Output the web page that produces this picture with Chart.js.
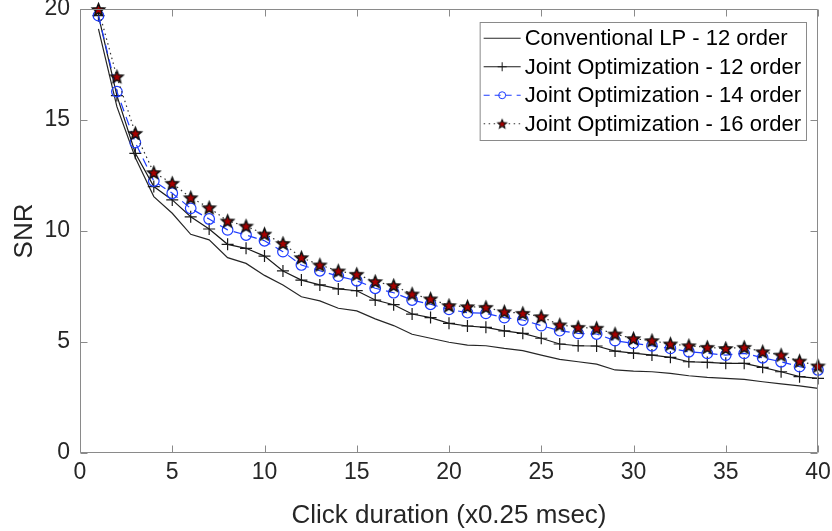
<!DOCTYPE html>
<html>
<head>
<meta charset="utf-8">
<title>SNR vs click duration</title>
<script src="https://cdn.jsdelivr.net/npm/chart.js@4.4.1/dist/chart.umd.min.js"></script>
<style>
  html, body { margin: 0; padding: 0; background: #fff; }
  canvas { display: block; }
</style>
</head>
<body>
<canvas id="snrChart" width="832" height="531"></canvas>
<script>
// x positions (click duration, in units of 0.25 msec)
const clickDuration = [1, 2, 3, 4, 5, 6, 7, 8, 9, 10, 11, 12, 13, 14, 15, 16, 17, 18, 19, 20,
  21, 22, 23, 24, 25, 26, 27, 28, 29, 30, 31, 32, 33, 34, 35, 36, 37, 38, 39, 40];

// SNR values
const conventionalLP12 = [19.1, 15.6, 13.3, 11.55, 10.8, 9.85, 9.6, 8.8, 8.54, 8.0,
  7.57, 7.04, 6.85, 6.52, 6.4, 6.04, 5.74, 5.35, 5.17, 4.99,
  4.86, 4.83, 4.71, 4.61, 4.41, 4.22, 4.11, 4.0, 3.74, 3.69,
  3.66, 3.59, 3.48, 3.41, 3.36, 3.32, 3.21, 3.11, 3.02, 2.91];
const jointOpt12 = [19.7, 16.1, 13.5, 12.0, 11.4, 10.64, 10.09, 9.4, 9.22, 8.87,
  8.2, 7.79, 7.57, 7.39, 7.31, 6.89, 6.68, 6.26, 6.1, 5.84,
  5.72, 5.66, 5.5, 5.39, 5.17, 4.91, 4.83, 4.82, 4.59, 4.5,
  4.41, 4.31, 4.11, 4.08, 4.04, 4.04, 3.86, 3.66, 3.44, 3.36];
const jointOpt14 = [19.7, 16.28, 13.98, 12.25, 11.7, 11.02, 10.54, 10.05, 9.82, 9.56,
  9.07, 8.47, 8.21, 7.97, 7.76, 7.42, 7.22, 6.89, 6.7, 6.47,
  6.32, 6.29, 6.1, 5.99, 5.74, 5.51, 5.39, 5.36, 5.06, 4.94,
  4.83, 4.71, 4.56, 4.49, 4.41, 4.49, 4.29, 4.11, 3.89, 3.74];
const jointOpt16 = [19.98, 16.95, 14.4, 12.63, 12.15, 11.5, 11.05, 10.45, 10.22, 9.86,
  9.44, 8.8, 8.47, 8.2, 8.05, 7.72, 7.54, 7.16, 6.94, 6.64,
  6.59, 6.56, 6.36, 6.29, 6.14, 5.77, 5.66, 5.62, 5.36, 5.15,
  5.06, 4.91, 4.83, 4.76, 4.71, 4.76, 4.56, 4.41, 4.14, 3.92];

const seriesLabels = [
  "Conventional LP - 12 order",
  "Joint Optimization - 12 order",
  "Joint Optimization - 14 order",
  "Joint Optimization - 16 order"
];
const xTickValues = [0, 5, 10, 15, 20, 25, 30, 35, 40];
const yTickValues = [0, 5, 10, 15, 20];

const FONT = "'Liberation Sans', Arial, Helvetica, sans-serif";
const textColor = "#262626";
const axisColor = "#8a8a8a";

// filled five-point star marker (MATLAB 'p' with red face)
function makeStar(r, lw) {
  const size = Math.ceil(r * 2 + 4);
  const c = document.createElement("canvas");
  c.width = size; c.height = size;
  const g = c.getContext("2d");
  const cx = size / 2, cy = size / 2 + 0.5;
  g.beginPath();
  for (let i = 0; i < 10; i++) {
    const rad = i % 2 === 0 ? r : r * 0.45;
    const a = -Math.PI / 2 + i * Math.PI / 5;
    const px = cx + rad * Math.cos(a), py = cy + rad * Math.sin(a);
    if (i === 0) g.moveTo(px, py); else g.lineTo(px, py);
  }
  g.closePath();
  g.fillStyle = "#a80000";
  g.fill();
  g.lineWidth = lw;
  g.strokeStyle = "#111";
  g.stroke();
  return c;
}
const starBig = makeStar(6.4, 1.5);
const starSmall = makeStar(4.6, 1.1);

function toPoints(arr) {
  return clickDuration.map((x, i) => ({ x: x, y: arr[i] }));
}

// draws the box round the axes and MATLAB style inward ticks
const axesFrame = {
  id: "axesFrame",
  afterDatasetsDraw(chart) {
    const { ctx, chartArea: a, scales } = chart;
    const L = Math.round(a.left) + 0.5, R = Math.round(a.right) - 0.5;
    const T = Math.round(a.top) + 0.5, B = Math.round(a.bottom) - 0.5;
    const tl = 7;
    ctx.save();
    ctx.strokeStyle = axisColor;
    ctx.lineWidth = 1;
    ctx.beginPath();
    ctx.rect(L, T, R - L, B - T);
    scales.x.ticks.forEach(t => {
      const px = Math.round(scales.x.getPixelForValue(t.value)) + 0.5;
      ctx.moveTo(px, B); ctx.lineTo(px, B - tl);
      ctx.moveTo(px, T); ctx.lineTo(px, T + tl);
    });
    scales.y.ticks.forEach(t => {
      const py = Math.round(scales.y.getPixelForValue(t.value)) + 0.5;
      ctx.moveTo(L, py); ctx.lineTo(L + tl, py);
      ctx.moveTo(R, py); ctx.lineTo(R - tl, py);
    });
    ctx.stroke();
    ctx.restore();
  }
};

// legend box in the upper right corner, line sample + marker + text
const boxLegend = {
  id: "boxLegend",
  afterDraw(chart) {
    const { ctx, chartArea: a } = chart;
    ctx.save();
    ctx.font = "22px " + FONT;
    const textW = Math.max(...seriesLabels.map(s => ctx.measureText(s).width));
    const rowH = 28.5;
    const w = textW + 50;
    const h = rowH * seriesLabels.length + 4;
    const right = Math.round(a.right) - 12;
    const left = right - w;
    const top = Math.round(a.top) + 13;
    ctx.fillStyle = "#fff";
    ctx.fillRect(left, top, w, h);
    ctx.strokeStyle = axisColor;
    ctx.lineWidth = 1;
    ctx.strokeRect(left + 0.5, top + 0.5, w, h);

    chart.data.datasets.forEach((ds, i) => {
      const cy = top + 2 + rowH * (i + 0.5);
      const x0 = left + 4, x1 = left + 41;
      ctx.save();
      ctx.strokeStyle = ds.borderColor;
      ctx.lineWidth = ds.borderWidth;
      ctx.setLineDash(ds.legendDash || ds.borderDash || []);
      ctx.beginPath();
      ctx.moveTo(x0, cy); ctx.lineTo(x1, cy);
      ctx.stroke();
      ctx.restore();
      if (ds.pointRadius > 0) {
        ctx.save();
        ctx.strokeStyle = ds.pointBorderColor;
        ctx.fillStyle = ds.pointBackgroundColor;
        ctx.lineWidth = 1;
        Chart.helpers.drawPoint(ctx, {
          pointStyle: ds.pointStyle === starBig ? starSmall : ds.pointStyle,
          rotation: 0,
          radius: ds.legendRadius,
          borderWidth: 1
        }, (x0 + x1) / 2, cy);
        ctx.restore();
      }
      ctx.fillStyle = "#000";
      ctx.textBaseline = "middle";
      ctx.textAlign = "left";
      ctx.fillText(seriesLabels[i], left + 45, cy + 1);
    });
    ctx.restore();
  }
};

const ctx = document.getElementById("snrChart").getContext("2d");
new Chart(ctx, {
  type: "line",
  data: {
    datasets: [
      {
        label: seriesLabels[0],
        data: toPoints(conventionalLP12),
        borderColor: "#262626",
        borderWidth: 1.2,
        pointRadius: 0,
        order: 4,
        clip: false
      },
      {
        label: seriesLabels[1],
        data: toPoints(jointOpt12),
        borderColor: "#1a1a1a",
        borderWidth: 1.2,
        pointStyle: "cross",
        pointRadius: 6,
        legendRadius: 4.5,
        pointBorderColor: "#1a1a1a",
        pointBackgroundColor: "#1a1a1a",
        pointBorderWidth: 1.2,
        order: 3,
        clip: false
      },
      {
        label: seriesLabels[2],
        data: toPoints(jointOpt14),
        borderColor: "#1e3cff",
        borderWidth: 1.2,
        borderDash: [9, 6],
        legendDash: [6, 5],
        pointStyle: "circle",
        pointRadius: 5.3,
        legendRadius: 3.5,
        pointBorderColor: "#1e3cff",
        pointBackgroundColor: "rgba(0,0,0,0)",
        pointBorderWidth: 1.2,
        order: 2,
        clip: false
      },
      {
        label: seriesLabels[3],
        data: toPoints(jointOpt16),
        borderColor: "#333",
        borderWidth: 1.2,
        borderDash: [1.5, 3.5],
        pointStyle: starBig,
        pointRadius: 7,
        legendRadius: 4.8,
        pointBorderColor: "#111",
        pointBackgroundColor: "#a80000",
        order: 1,
        clip: false
      }
    ]
  },
  options: {
    responsive: false,
    animation: false,
    layout: { padding: { left: 0, right: 14, top: 9, bottom: 0 } },
    plugins: {
      legend: { display: false },
      tooltip: { enabled: false }
    },
    scales: {
      x: {
        type: "linear",
        min: 0,
        max: 40,
        afterBuildTicks: s => { s.ticks = xTickValues.map(v => ({ value: v })); },
        afterFit: s => { s.height = 78; s.paddingLeft = 0; s.paddingRight = 0; },
        grid: { display: false, drawTicks: false },
        border: { display: false },
        ticks: { font: { family: FONT, size: 23 }, color: textColor, padding: 6, maxRotation: 0 },
        title: {
          display: true,
          text: "Click duration (x0.25 msec)",
          font: { family: FONT, size: 26 },
          color: textColor,
          padding: { top: 0, bottom: 0 }
        }
      },
      y: {
        min: 0,
        max: 20,
        afterBuildTicks: s => { s.ticks = yTickValues.map(v => ({ value: v })); },
        afterFit: s => { s.width = 80; s.paddingTop = 0; s.paddingBottom = 0; },
        grid: { display: false, drawTicks: false },
        border: { display: false },
        ticks: { font: { family: FONT, size: 23 }, color: textColor, padding: 10 },
        title: {
          display: true,
          text: "SNR",
          font: { family: FONT, size: 26 },
          color: textColor,
          padding: { top: 9, bottom: 0 }
        }
      }
    }
  },
  plugins: [axesFrame, boxLegend]
});
</script>
</body>
</html>
